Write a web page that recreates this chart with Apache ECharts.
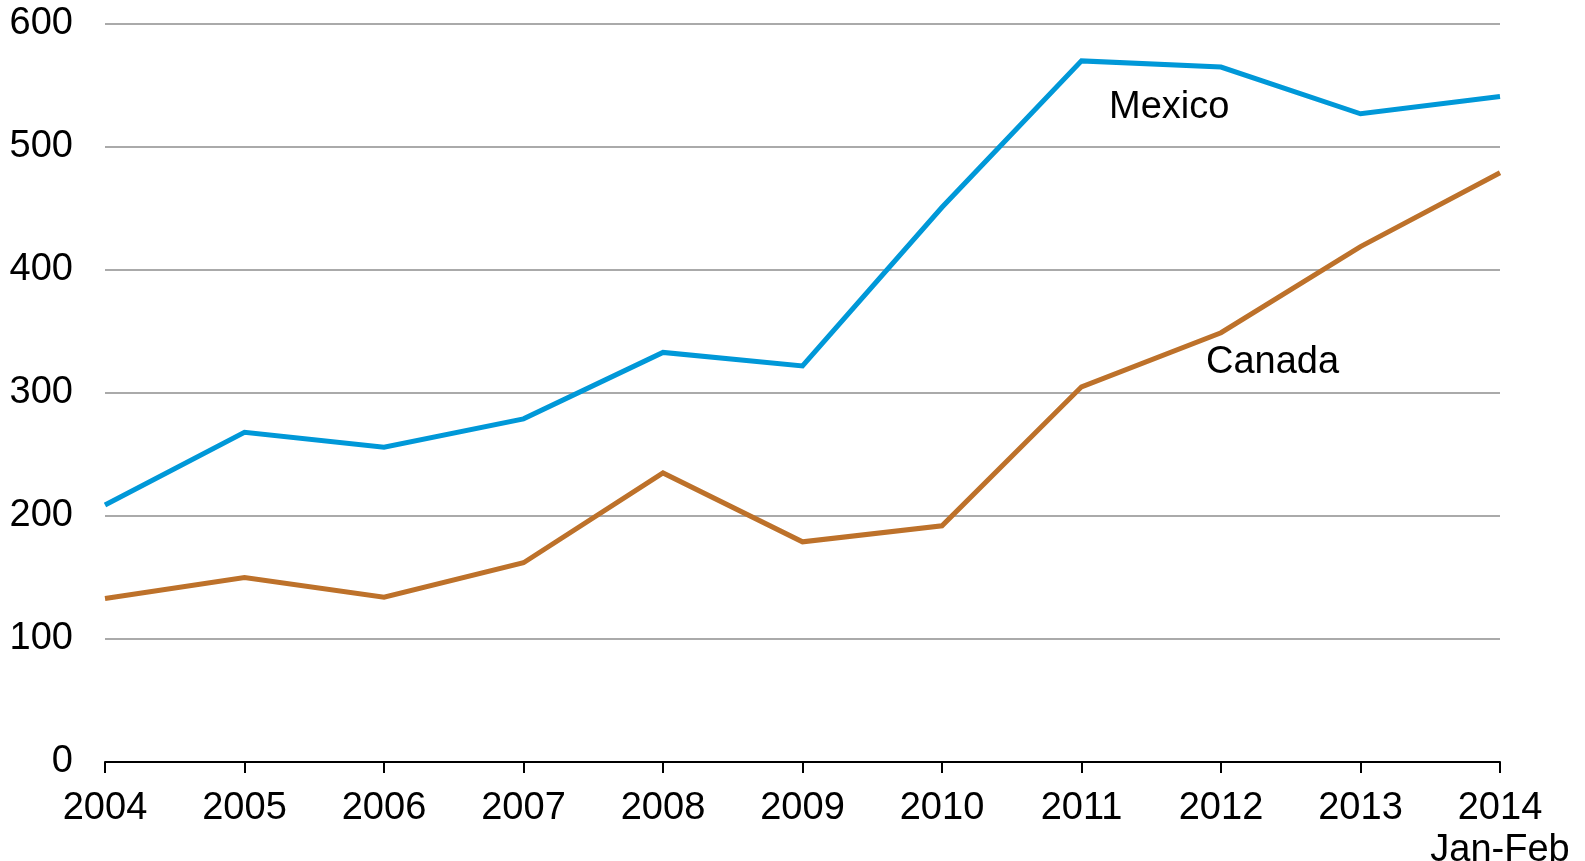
<!DOCTYPE html>
<html>
<head>
<meta charset="utf-8">
<script src="https://cdn.jsdelivr.net/npm/echarts@6/dist/echarts.min.js"></script>
<style>
html,body{margin:0;padding:0;background:#fff;}
#chart{width:1585px;height:861px;}
</style>
</head>
<body>
<div id="chart"></div>
<script>
const categories = ['2004','2005','2006','2007','2008','2009','2010','2011','2012','2013','2014\nJan-Feb'];
const mexico = [209, 268, 256, 279, 333, 322, 451, 570, 565, 527, 541];
const canada = [133, 150, 134, 162, 235, 179, 192, 305, 349, 419, 479];
const yTicks = [0, 100, 200, 300, 400, 500, 600];

const chart = echarts.init(document.getElementById('chart'));
const font = 'Liberation Sans, Arial, sans-serif';
chart.setOption({
  animation: false,
  backgroundColor: '#fff',
  grid: { left: 105, right: 85, top: 24, bottom: 99, containLabel: false, outerBoundsMode: 'none' },
  xAxis: {
    type: 'category',
    data: categories,
    boundaryGap: false,
    axisLine: { lineStyle: { color: '#000', width: 2 } },
    axisTick: { show: true, length: 11, lineStyle: { color: '#000', width: 2 } },
    axisLabel: { color: '#000', fontSize: 38, fontFamily: font, margin: 26, lineHeight: 42, interval: 0 },
    splitLine: { show: false }
  },
  yAxis: {
    type: 'value',
    min: yTicks[0],
    max: yTicks[yTicks.length - 1],
    interval: 100,
    axisLine: { show: false },
    axisTick: { show: false },
    axisLabel: { color: '#000', fontSize: 38, fontFamily: font, margin: 32 },
    splitLine: { show: true, lineStyle: { color: '#AAAAAA', width: 2 } }
  },
  series: [
    {
      name: 'Mexico', type: 'line', data: mexico, symbol: 'none',
      lineStyle: { color: '#0098D8', width: 5, join: 'miter' }, z: 3
    },
    {
      name: 'Canada', type: 'line', data: canada, symbol: 'none',
      lineStyle: { color: '#BD712A', width: 5, join: 'miter' }, z: 3
    }
  ],
  graphic: [
    { type: 'text', left: 1109, top: 89, style: { text: 'Mexico', fill: '#000', font: '38px Liberation Sans, Arial, sans-serif' } },
    { type: 'text', left: 1206, top: 344, style: { text: 'Canada', fill: '#000', font: '38px Liberation Sans, Arial, sans-serif' } }
  ]
});
</script>
</body>
</html>
